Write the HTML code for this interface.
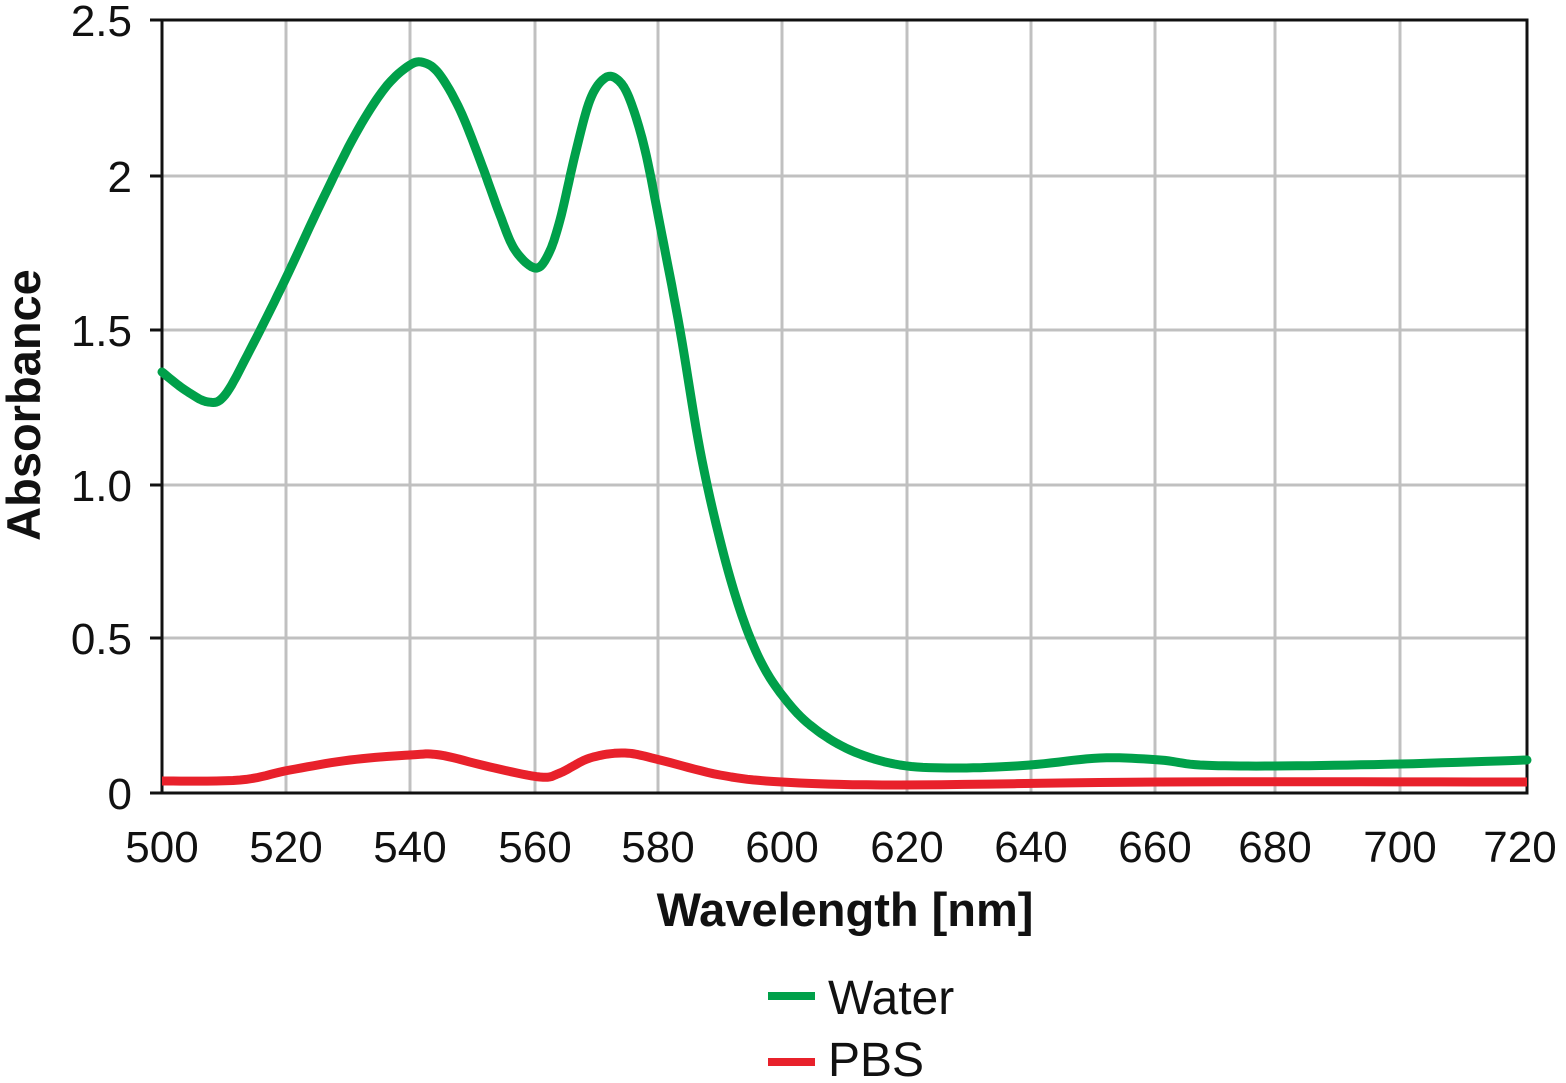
<!DOCTYPE html>
<html><head><style>
body{margin:0;background:#fff;}
svg text{font-family:"Liberation Sans",sans-serif;fill:#111;}
</style></head><body>
<svg width="1566" height="1078" viewBox="0 0 1566 1078" xmlns="http://www.w3.org/2000/svg">
<g stroke="#c0c0c0" stroke-width="3">
<line x1="286" y1="20" x2="286" y2="793"/><line x1="410" y1="20" x2="410" y2="793"/>
<line x1="535" y1="20" x2="535" y2="793"/><line x1="658" y1="20" x2="658" y2="793"/>
<line x1="782" y1="20" x2="782" y2="793"/><line x1="907" y1="20" x2="907" y2="793"/>
<line x1="1031" y1="20" x2="1031" y2="793"/><line x1="1155" y1="20" x2="1155" y2="793"/>
<line x1="1275" y1="20" x2="1275" y2="793"/><line x1="1400" y1="20" x2="1400" y2="793"/>
<line x1="162" y1="176" x2="1527" y2="176"/><line x1="162" y1="330" x2="1527" y2="330"/>
<line x1="162" y1="485" x2="1527" y2="485"/><line x1="162" y1="638" x2="1527" y2="638"/>
</g>
<rect x="162" y="20" width="1365" height="773" fill="none" stroke="#111" stroke-width="3"/>
<g stroke="#111" stroke-width="3">
<line x1="150" y1="20" x2="162" y2="20"/><line x1="150" y1="176" x2="162" y2="176"/>
<line x1="150" y1="330" x2="162" y2="330"/><line x1="150" y1="485" x2="162" y2="485"/>
<line x1="150" y1="638" x2="162" y2="638"/><line x1="150" y1="793" x2="162" y2="793"/>
</g>
<g font-size="44" text-anchor="end">
<text x="132" y="36">2.5</text><text x="132" y="192">2</text><text x="132" y="346">1.5</text>
<text x="132" y="501">1.0</text><text x="132" y="654">0.5</text><text x="132" y="809">0</text>
</g>
<g font-size="44" text-anchor="middle">
<text x="162" y="862">500</text><text x="286" y="862">520</text><text x="410" y="862">540</text>
<text x="535" y="862">560</text><text x="658" y="862">580</text><text x="782" y="862">600</text>
<text x="907" y="862">620</text><text x="1031" y="862">640</text><text x="1155" y="862">660</text>
<text x="1275" y="862">680</text><text x="1400" y="862">700</text><text x="1520" y="862">720</text>
</g>
<text x="845" y="926" font-size="47" font-weight="bold" text-anchor="middle">Wavelength [nm]</text>
<text transform="translate(40,405) rotate(-90)" font-size="47" font-weight="bold" text-anchor="middle">Absorbance</text>
<polyline id="g" fill="none" stroke="#00a04a" stroke-width="9" stroke-linejoin="round" stroke-linecap="round"
points="162,372 185,390 208,402 225,395 250,350 285,280 320,205 355,135 385,88 410,65 425,63 440,75 460,110 480,160 500,215 515,250 535,268 548,255 560,220 575,155 590,100 605,78 618,80 630,100 645,150 660,225 680,330 700,450 720,540 740,610 760,660 782,695 810,725 850,750 900,765 960,768 1030,765 1100,758 1160,760 1200,765 1275,766 1400,764 1527,760"/>
<polyline id="r" fill="none" stroke="#e8212b" stroke-width="9" stroke-linejoin="round"
points="162,781 240,780 290,770 350,760 410,755 440,755 490,767 540,777 560,773 590,758 625,753 660,760 720,775 782,782 900,785 1160,782 1527,782"/>
<line x1="768" y1="996" x2="815" y2="996" stroke="#00a04a" stroke-width="8"/>
<text x="828" y="1014" font-size="48">Water</text>
<line x1="768" y1="1062" x2="815" y2="1062" stroke="#e8212b" stroke-width="8"/>
<text x="828" y="1076" font-size="48">PBS</text>
</svg>
<script>
["g","r"].forEach(function(id){
var el=document.getElementById(id);
var p=el.getAttribute("points").trim().split(/\s+/).map(function(s){return s.split(",").map(Number);});
var out=[];
for(var i=0;i<p.length-1;i++){
var p0=p[Math.max(i-1,0)],p1=p[i],p2=p[i+1],p3=p[Math.min(i+2,p.length-1)];
for(var t=0;t<1;t+=0.1){
var t2=t*t,t3=t2*t;
var x=0.5*((2*p1[0])+(-p0[0]+p2[0])*t+(2*p0[0]-5*p1[0]+4*p2[0]-p3[0])*t2+(-p0[0]+3*p1[0]-3*p2[0]+p3[0])*t3);
var y=0.5*((2*p1[1])+(-p0[1]+p2[1])*t+(2*p0[1]-5*p1[1]+4*p2[1]-p3[1])*t2+(-p0[1]+3*p1[1]-3*p2[1]+p3[1])*t3);
out.push(x.toFixed(1)+","+y.toFixed(1));
}}
out.push(p[p.length-1].join(","));
el.setAttribute("points",out.join(" "));
});
</script>
</body></html>
